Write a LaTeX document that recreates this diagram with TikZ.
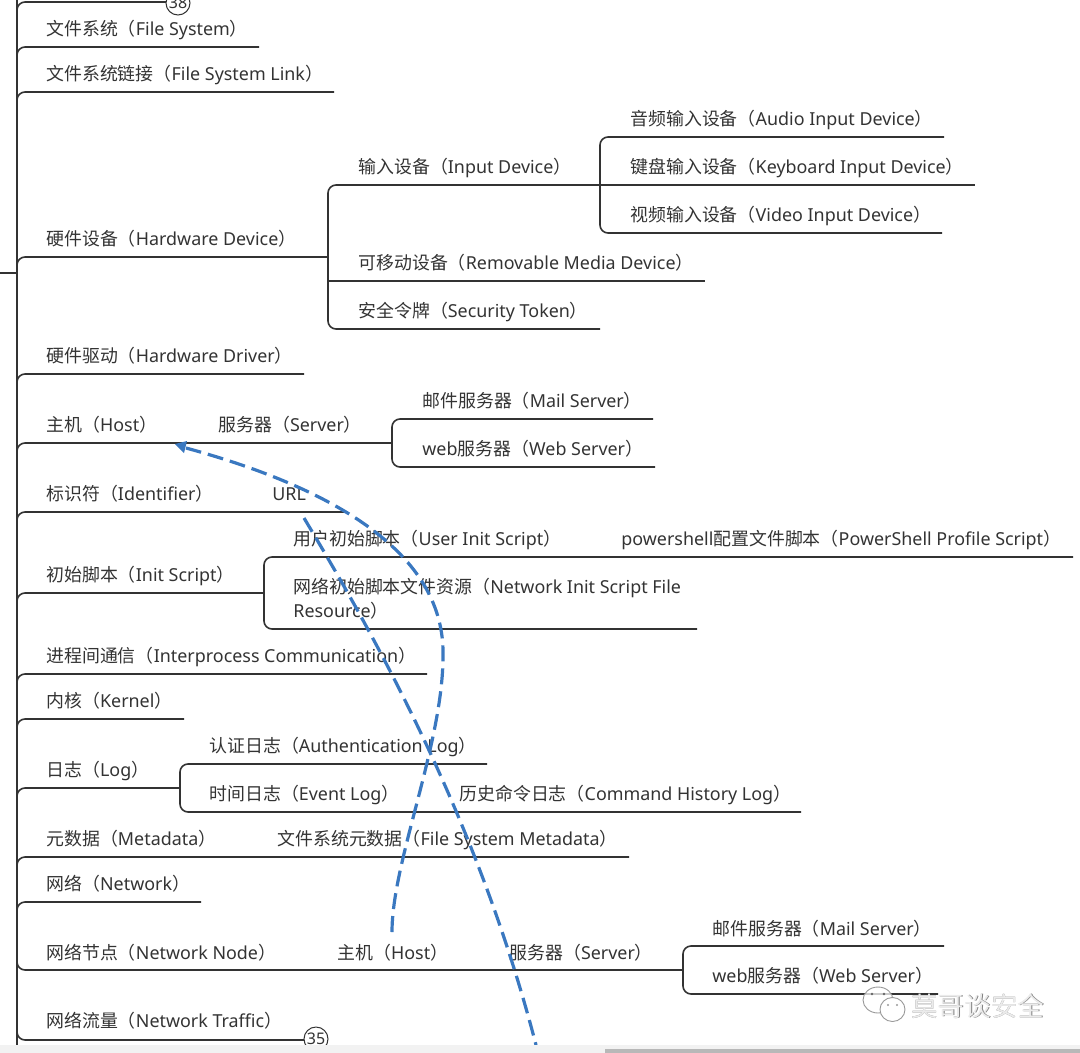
\documentclass[tikz,border=0pt]{standalone}
\usepackage{fontspec}
\setmainfont{Noto Sans}
\newfontfamily\cjk{Noto Sans CJK SC}
\newcommand{\zh}[1]{{\cjk #1}}
\usetikzlibrary{arrows.meta,calc}
\definecolor{ink}{HTML}{333333}
\definecolor{flow}{HTML}{3A78C0}
\tikzset{
  lab/.style={anchor=base west,inner sep=0pt,outer sep=0pt,text=ink,xshift=-0.6pt,yshift=-0.6pt,font=\fontsize{17.9}{24}\selectfont},
  bar/.style={draw=ink,line width=1.6pt,line cap=butt},
  round8/.style={bar,rounded corners=8pt},
  badge/.style={circle,draw=ink,fill=white,line width=1pt,minimum size=24pt,inner sep=0pt,text=ink,font=\fontsize{16}{16}\selectfont},
  link/.style={draw=flow,line width=3.2pt,dash pattern=on 16pt off 7pt},
  mark text/.style={anchor=base west,inner sep=0pt,font=\cjk\fontsize{26.6}{26}\selectfont}
}
\newcommand{\lb}[4]{\node[lab] (#1) at (#2,#3) {#4};}
\newcommand{\ch}[4]{\draw[round8] (#1,#2) |- (#3,#4);}
\begin{document}
\begin{tikzpicture}[x=1pt,y=-1pt]
\useasboundingbox (0,0) rectangle (1080,1053);
% spine
\coordinate (spT) at (17,-10);
\coordinate (spB) at (17,1045);
\draw[bar] (spT) -- (spB);
\draw[bar] (0,273) -- (17,273);
% first level
\ch{17}{20}{175}{2}
\ch{17}{60}{259}{47}
\ch{17}{110}{334}{92}
\ch{17}{280}{328}{257}
\ch{17}{395}{304}{374}
\ch{17}{465}{392}{443}
\ch{17}{535}{345}{512}
\ch{17}{615}{264}{593}
\ch{17}{695}{427}{674}
\ch{17}{740}{184}{719}
\ch{17}{810}{180}{788}
\ch{17}{880}{629}{857}
\ch{17}{925}{201}{902}
\ch{17}{945}{683}{970}
\ch{17}{1015}{304}{1040}
% hardware bracket
\draw[round8] (600,185) -- (328,185) -- (328,329) -- (600,329);
\draw[bar] (328,281) -- (705,281);
\draw[round8] (944,137) -- (600,137) -- (600,233) -- (942,233);
\draw[bar] (600,185) -- (975,185);
% host bracket
\draw[round8] (653,419) -- (392,419) -- (392,467) -- (655,467);
% init script bracket
\draw[round8] (1073,557) -- (264,557) -- (264,629) -- (697,629);
% log bracket
\draw[round8] (487,764) -- (180,764) -- (180,812) -- (801,812);
% network node bracket
\draw[round8] (944,946) -- (683,946) -- (683,994) -- (938,994);
% badges
\node[badge] (b38) at (178,3) {38};
\node[badge] (b35) at (316,1039) {35};
% labels
\lb{fs}{47}{35}{\zh{文件系统（}File System\zh{）}}
\lb{fsl}{47}{80}{\zh{文件系统链接（}File System Link\zh{）}}
\lb{hw}{47}{244.5}{\zh{硬件设备（}Hardware Device\zh{）}}
\lb{inp}{359}{172.5}{\zh{输入设备（}Input Device\zh{）}}
\lb{aud}{631}{124.5}{\zh{音频输入设备（}Audio Input Device\zh{）}}
\lb{key}{631}{172.5}{\zh{键盘输入设备（}Keyboard Input Device\zh{）}}
\lb{vid}{631}{220.5}{\zh{视频输入设备（}Video Input Device\zh{）}}
\lb{rem}{359}{268.5}{\zh{可移动设备（}Removable Media Device\zh{）}}
\lb{sec}{359}{316.5}{\zh{安全令牌（}Security Token\zh{）}}
\lb{drv}{47}{361.5}{\zh{硬件驱动（}Hardware Driver\zh{）}}
\lb{host}{47}{430.5}{\zh{主机（}Host\zh{）}}
\lb{srv}{219}{430.5}{\zh{服务器（}Server\zh{）}}
\lb{mail}{423}{406.5}{\zh{邮件服务器（}Mail Server\zh{）}}
\lb{web}{423}{454.5}{web\zh{服务器（}Web Server\zh{）}}
\lb{idf}{47}{499.5}{\zh{标识符（}Identifier\zh{）}}
\lb{url}{273}{499.5}{URL}
\lb{ini}{47}{580.5}{\zh{初始脚本（}Init Script\zh{）}}
\lb{usr}{294}{544.5}{\zh{用户初始脚本（}User Init Script\zh{）}}
\lb{ps}{622}{544.5}{powershell\zh{配置文件脚本（}PowerShell Profile Script\zh{）}}
\lb{net1}{294}{592.5}{\zh{网络初始脚本文件资源（}Network Init Script File}
\lb{net2}{294}{616.5}{Resource\zh{）}}
\lb{ipc}{47}{661.5}{\zh{进程间通信（}Interprocess Communication\zh{）}}
\lb{ker}{47}{706.5}{\zh{内核（}Kernel\zh{）}}
\lb{log}{47}{775.5}{\zh{日志（}Log\zh{）}}
\lb{aut}{210}{751.5}{\zh{认证日志（}Authentication Log\zh{）}}
\lb{evt}{210}{799.5}{\zh{时间日志（}Event Log\zh{）}}
\lb{his}{460}{799.5}{\zh{历史命令日志（}Command History Log\zh{）}}
\lb{met}{47}{844.5}{\zh{元数据（}Metadata\zh{）}}
\lb{fsm}{278}{844.5}{\zh{文件系统元数据（}File System Metadata\zh{）}}
\lb{net}{47}{889.5}{\zh{网络（}Network\zh{）}}
\lb{nn}{47}{958.5}{\zh{网络节点（}Network Node\zh{）}}
\lb{nh}{338}{958.5}{\zh{主机（}Host\zh{）}}
\lb{ns}{510}{958.5}{\zh{服务器（}Server\zh{）}}
\lb{nm}{713}{934.5}{\zh{邮件服务器（}Mail Server\zh{）}}
\lb{nw}{713}{981.5}{web\zh{服务器（}Web Server\zh{）}}
\lb{tr}{47}{1026.5}{\zh{网络流量（}Network Traffic\zh{）}}
% dashed relationship curves
\coordinate (h1) at (392,932);
\coordinate (h2) at (186,448);
\draw[link] (h1) .. controls (392,860) and (445,740) .. (443,650)
  .. controls (441,555) and (340,490) .. (h2);
\fill[flow] (175,444) -- (187,441) -- (184,453) -- cycle;
\coordinate (u1) at (304,518);
\coordinate (u2) at (536,1045);
\draw[link] (u1) .. controls (368,625) and (475,810) .. (u2);
% watermark
\node[mark text,text=black!50] (wmS) at (911.6,1016.6) {莫哥谈安全};
\node[mark text,text=black!8] (wm) at (911,1016) {莫哥谈安全};
\draw[black!40,line width=0.9pt,fill=white,fill opacity=0.75] (878,1000) ellipse (15pt and 13pt);
\draw[black!40,line width=0.9pt,fill=white] (892.5,1009.5) ellipse (12.5pt and 12pt);
\fill[black!60] (872,994) circle (1.4pt) (884,994) circle (1.4pt);
\fill[black!40] (888,1005) circle (1.1pt) (897,1005) circle (1.1pt);
% bottom strip
\fill[black!5] (0,1045) rectangle (1080,1053);
\fill[black!28] (605,1049) rectangle (1080,1053);
\end{tikzpicture}
\end{document}
